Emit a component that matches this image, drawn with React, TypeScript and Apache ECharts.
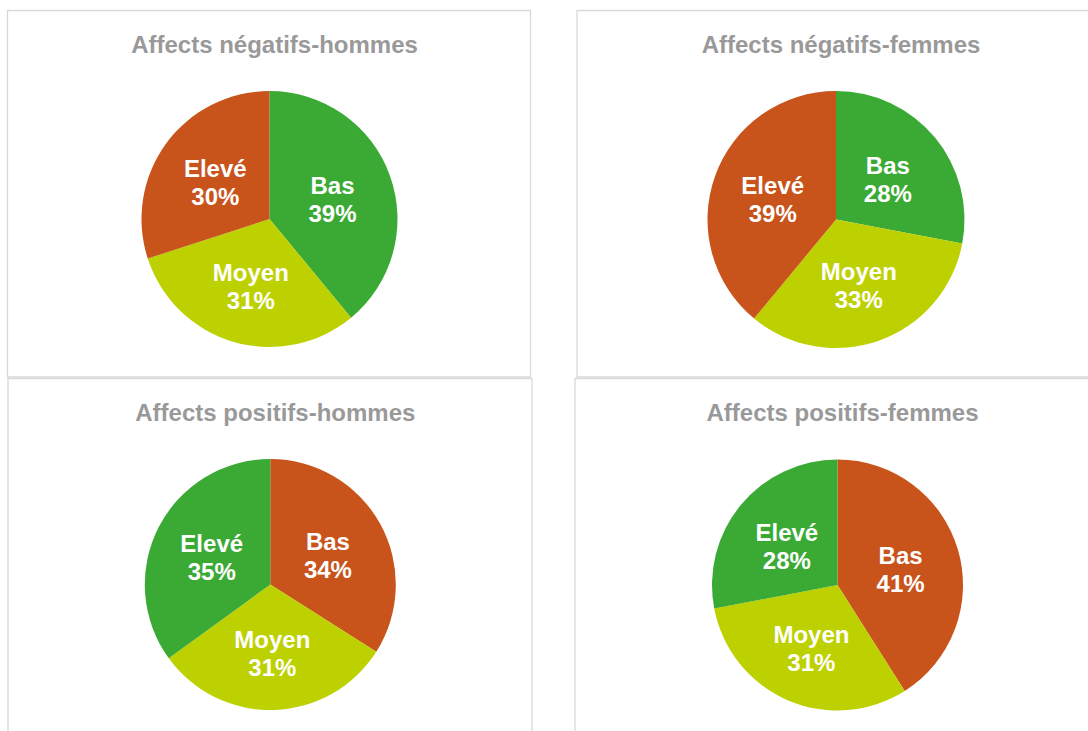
import React, { useEffect, useRef } from "react";
import * as echarts from "echarts";

const categories = ["Bas", "Moyen", "Elevé"];
const titles = [
  "Affects négatifs-hommes",
  "Affects négatifs-femmes",
  "Affects positifs-hommes",
  "Affects positifs-femmes",
];
const negHommes = [39, 31, 30];
const negFemmes = [28, 33, 39];
const posHommes = [34, 31, 35];
const posFemmes = [41, 31, 28];

const GREEN = "#3AAA35";
const YELLOW = "#BDD000";
const ORANGE = "#C8531B";
const negColors = [GREEN, YELLOW, ORANGE];
const posColors = [ORANGE, YELLOW, GREEN];

const FONT = "'Liberation Sans', Arial, sans-serif";

const panels = [
  { x: 7.5, y: 10.5, w: 523, h: 366.5, cx: 269.5, cy: 219, r: 128, values: negHommes, colors: negColors },
  { x: 577, y: 10.5, w: 530, h: 366.5, cx: 836, cy: 219.5, r: 128.5, values: negFemmes, colors: negColors },
  { x: 8, y: 378.5, w: 524, h: 370, cx: 270.3, cy: 584.5, r: 125.5, values: posHommes, colors: posColors },
  { x: 575, y: 378.5, w: 530, h: 370, cx: 837.5, cy: 585, r: 125.5, values: posFemmes, colors: posColors },
];

export default function App() {
  const ref = useRef<HTMLDivElement>(null);
  useEffect(() => {
    if (!ref.current) return;
    const chart = echarts.init(ref.current, null, { renderer: "svg" });
    const titleTops = [39, 39, 407, 407];
    chart.setOption({
      animation: false,
      backgroundColor: "#ffffff",
      graphic: panels.map((p) => ({
        type: "rect",
        shape: { x: p.x, y: p.y, width: p.w, height: p.h },
        style: { fill: "none", stroke: "#D9D9D9", lineWidth: 1.3 },
        silent: true,
        z: -1,
      })),
      title: panels.map((p, i) => ({
        text: titles[i],
        left: p.cx,
        top: titleTops[i],
        textAlign: "center",
        textVerticalAlign: "middle",
        textStyle: { color: "#999999", fontSize: 24, fontWeight: "bold", fontFamily: FONT },
      })),
      series: panels.map((p) => ({
        type: "pie",
        center: [p.cx, p.cy],
        radius: p.r,
        startAngle: 90,
        clockwise: true,
        avoidLabelOverlap: false,
        emphasis: { disabled: true },
        itemStyle: { borderWidth: 0 },
        label: {
          show: true,
          position: "inside",
          formatter: "{b}\n{c}%",
          color: "#ffffff",
          fontSize: 24,
          lineHeight: 28,
          fontWeight: "bold",
          fontFamily: FONT,
          offset: [0, 3],
        },
        labelLine: { show: false },
        data: categories.map((c, k) => ({
          name: c,
          value: p.values[k],
          itemStyle: { color: p.colors[k] },
        })),
      })),
    });
    return () => chart.dispose();
  }, []);
  return (
    <div
      ref={ref}
      style={{ position: "fixed", left: 0, top: 0, width: 1088, height: 731, background: "#fff" }}
    />
  );
}
